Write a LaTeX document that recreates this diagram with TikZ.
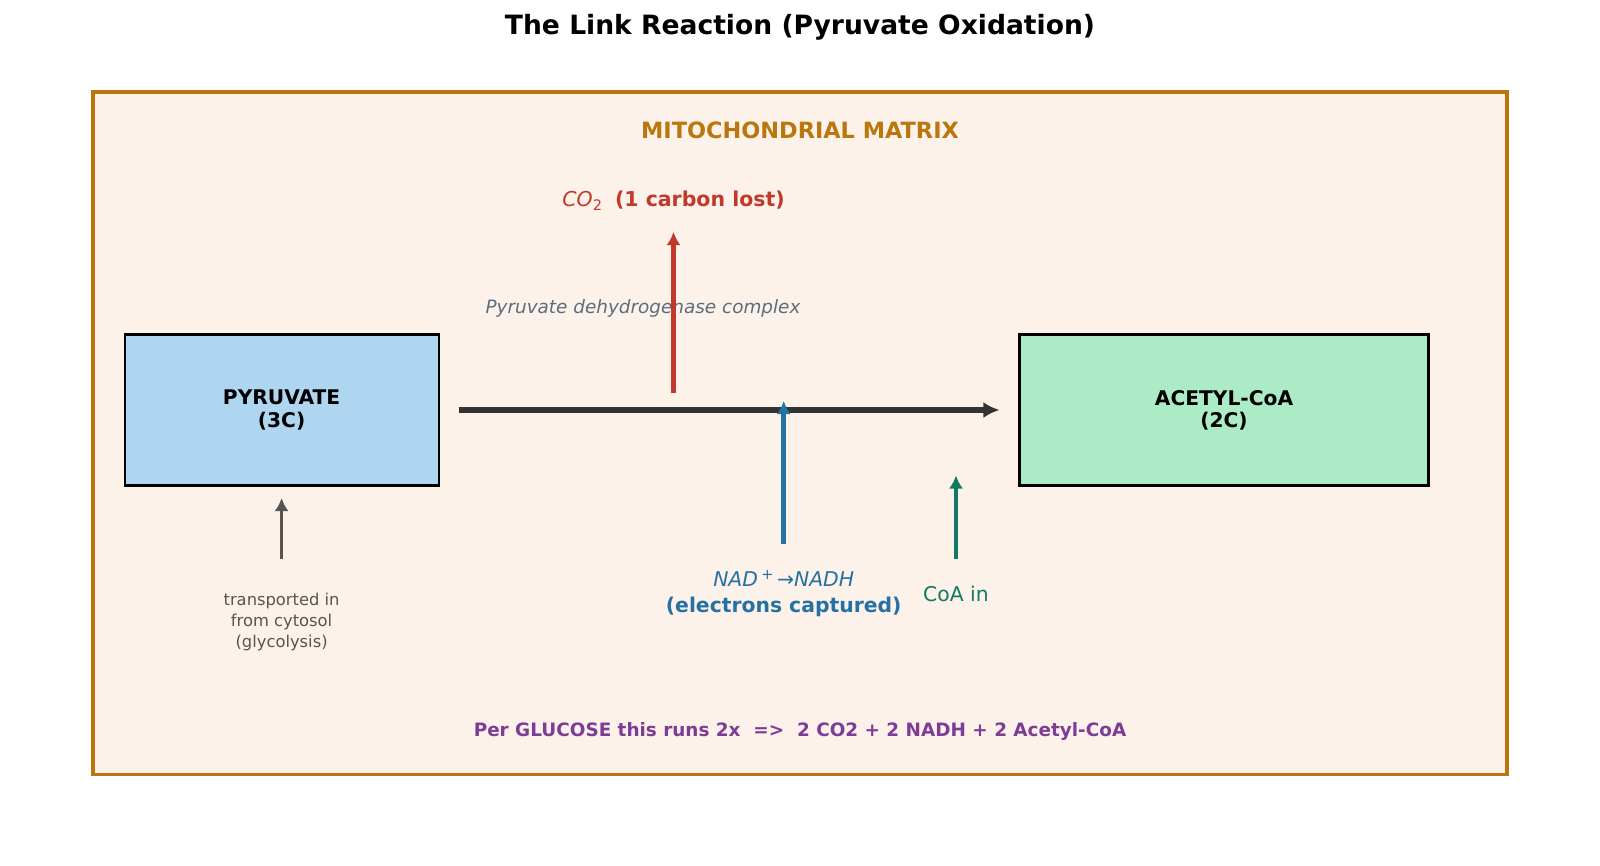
\documentclass[tikz,border=0pt]{standalone}
\usepackage{fontspec}
\setmainfont{DejaVu Sans}
\usetikzlibrary{arrows.meta, positioning}

\definecolor{matrixgold}{HTML}{B9770E}
\definecolor{matrixfill}{HTML}{FDF2E9}
\definecolor{pyrblue}{HTML}{AED6F1}
\definecolor{acegreen}{HTML}{ABEBC6}
\definecolor{co2red}{HTML}{C0392B}
\definecolor{nadblue}{HTML}{2471A3}
\definecolor{coagreen}{HTML}{117A65}
\definecolor{sumpurple}{HTML}{7D3C98}
\definecolor{enzgray}{HTML}{5D6D7E}
\definecolor{notegray}{HTML}{555555}
\definecolor{flowgray}{HTML}{333333}

\newcommand{\pxu}{0.254mm}
\newcommand{\fs}[2]{\fontsize{#1}{#2}\selectfont}

\tikzset{
    molecule/.style={draw, line width=1.5pt, minimum height=151*\pxu, align=center,
        font=\fs{14.6}{16}\bfseries},
    side/.style={line width=3.4pt, -{Latex[length=13*\pxu, width=14*\pxu]}},
}

\begin{document}
\begin{tikzpicture}[x=\pxu, y=-\pxu]
    \useasboundingbox (0, 0) rectangle (1600, 865);

    \node[font=\fs{19.2}{21}\bfseries] (title) at (800, 27.5) {The Link Reaction (Pyruvate Oxidation)};

    % matrix
    \draw[matrixgold, fill=matrixfill, line width=2.6pt] (93, 92) rectangle (1507, 774.5);
    \node[font=\fs{16.2}{18}\bfseries, text=matrixgold] (matrix) at (800, 130) {MITOCHONDRIAL MATRIX};

    % molecules
    \node[molecule, fill=pyrblue, minimum width=314*\pxu] (pyr) at (281.6, 410) {PYRUVATE\\(3C)};
    \node[molecule, fill=acegreen, minimum width=409*\pxu] (acetyl) at (1224, 410) {ACETYL-CoA\\(2C)};

    \draw[flowgray, line width=4.2pt, -{Latex[length=16*\pxu, width=16*\pxu]},
        shorten <=19*\pxu, shorten >=19*\pxu] (pyr.east) -- (acetyl.west);

    \node[font=\fs{13.3}{15}\itshape, text=enzgray] (enzyme) at (643, 308) {Pyruvate dehydrogenase complex};

    % CO2 out
    \node[font=\fs{14.8}{16}, text=co2red] (co2) at (673.5, 201)
        {\textit{CO}\raisebox{-0.35ex}{\fs{10.5}{12}2}\ \ \textbf{(1 carbon lost)}};
    \coordinate (co2from) at (673.5, 393);
    \coordinate (co2to) at (673.5, 232);
    \draw[side, co2red] (co2from) -- (co2to);

    % NAD+
    \node[font=\fs{14.7}{19}, text=nadblue, align=center] (nad) at (783.7, 594)
        {\textit{NAD}\,\raisebox{0.6ex}{\fs{10.5}{12}+}\,→\textit{NADH}\\\textbf{(electrons captured)}};
    \coordinate (nadfrom) at (783.7, 544);
    \coordinate (nadto) at (783.7, 401);
    \draw[side, nadblue] (nadfrom) -- (nadto);

    % CoA
    \node[font=\fs{14.7}{16}, text=coagreen] (coa) at (956, 594) {CoA in};
    \coordinate (coafrom) at (956, 559);
    \coordinate (coato) at (956, 475.5);
    \draw[side, coagreen] (coafrom) -- (coato);

    % from cytosol
    \node[font=\fs{11.8}{15}, text=notegray, align=center] (cytosol) at (281.6, 622)
        {transported in\\from cytosol\\(glycolysis)};
    \coordinate (cytfrom) at (281.6, 559);
    \coordinate (cytto) at (281.6, 498);
    \draw[side, notegray, line width=2.6pt] (cytfrom) -- (cytto);

    \node[font=\fs{13.3}{15}\bfseries, text=sumpurple] (summary) at (800, 731)
        {Per GLUCOSE this runs 2x\ \ =>\ \ 2 CO2 + 2 NADH + 2 Acetyl-CoA};
\end{tikzpicture}
\end{document}
